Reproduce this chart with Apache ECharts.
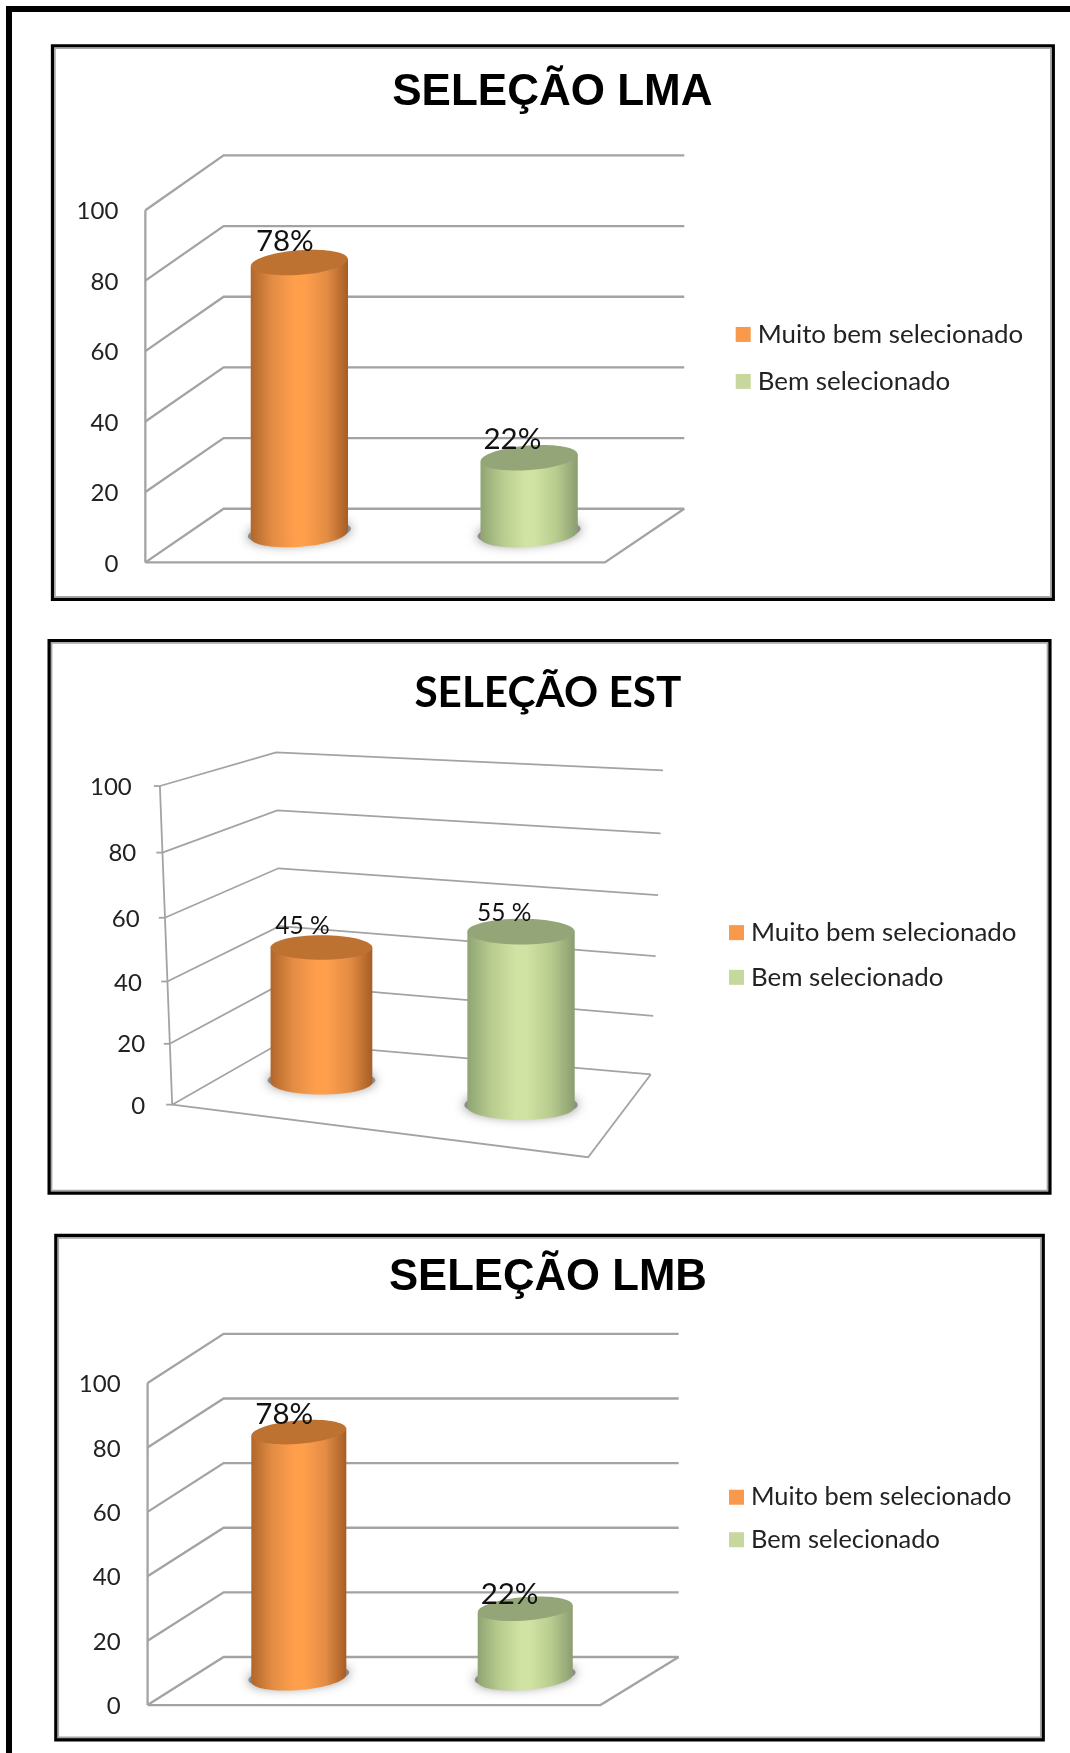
<!DOCTYPE html>
<html><head><meta charset="utf-8">
<style>html,body{margin:0;padding:0;background:#fff}#c{width:1070px;height:1753px}</style>
<script src="https://cdn.jsdelivr.net/npm/echarts@6/dist/echarts.min.js"></script>
</head><body><div id="c"></div>
<script>
// ---- data ----
const categories = ['Muito bem selecionado', 'Bem selecionado'];
const yTicks = [0, 20, 40, 60, 80, 100];
const lmaValues = [78, 22];
const lmaLabels = ['78%', '22%'];
const estValues = [45, 55];
const estLabels = ['45 %', '55 %'];
const lmbValues = [78, 22];
const lmbLabels = ['78%', '22%'];
const titles = ['SELEÇÃO LMA', 'SELEÇÃO EST', 'SELEÇÃO LMB'];

// ---- layout (measured in the 957px preview, scaled by K) ----
const K = 1070 / 957;
const ORANGE = {legend:'#F9994B', top:'#BE7232', stops:['#B0672A','#E38C44','#FF9F4C','#FF9F4C','#E38C44','#A65E24']};
const GREEN  = {legend:'#C6D89E', top:'#94A578', stops:['#8FA473','#B7CB8E','#D1E3A2','#D1E3A2','#B7CB8E','#8B9D70']};
const PALETTE = [ORANGE, GREEN];

const charts = [
 {values:lmaValues, labels:lmaLabels, box:[47,41,942,536], titleXY:[494,81], titleFont:{fontFamily:'Liberation Sans',fontSize:44},
  grid:[130,188,541,503], blBottom:[70,-48], blTop:[70,-49], brBottom:[71,-48], brTop:[71,-49], lineW:2.3,
  legend:[658,287.5,42], legendSize:25.9, ticks:false, frDy:0, bowFront:0, bowRight:0,
  bars:[{dx:35,dy:-25,k:0.99,rx:43.5,ry:11,tilt:4.5,lab:[-13,-19]},{dx:35,dy:-25,k:0.99,rx:43.5,ry:11,tilt:4.5,lab:[-15,-16]}], labSize:29.5, rOff:{}},
 {values:estValues, labels:estLabels, box:[44,573,939,1067], titleXY:[490,618], titleFont:{fontFamily:'Lato',fontSize:42.3},
  grid:[154,703,526,988], blBottom:[98,-56], blTop:[93,-30], brBottom:[56,-27], brTop:[67,-14], lineW:1.8,
  legend:[652,822.5,40], legendSize:25.9, ticks:true, axisTopDx:-11, frDy:47, bowFront:4, bowRight:3,
  bars:[{dx:40.5,dy:-20,k:0.94,rx:45.5,ry:11,tilt:0,lab:[-17,-19]},{dx:33,dy:2,k:1,rx:48,ry:11.5,tilt:0,lab:[-15,-17]}], labSize:24.5,
  rOff:{100:[12,0],80:[8,2],60:[5,4],40:[3,4],20:[0,2],0:[0,0]}},
 {values:lmbValues, labels:lmbLabels, box:[50,1105,933,1556], titleXY:[490,1141], titleFont:{fontFamily:'Liberation Sans',fontSize:43.7},
  grid:[132,1237,537,1525], blBottom:[68,-43], blTop:[68,-44], brBottom:[70,-43], brTop:[70,-44], lineW:2.3,
  legend:[652,1327.5,38], legendSize:25.4, ticks:false, frDy:0, bowFront:0, bowRight:0,
  bars:[{dx:34,dy:-24,k:0.98,rx:42.5,ry:10.5,tilt:4.5,lab:[-13,-16]},{dx:34,dy:-24,k:0.98,rx:42.5,ry:10.5,tilt:4.5,lab:[-14,-13]}], labSize:29.5, rOff:{}}
];

const AXIS_FONT = {fontFamily:'Lato', fontSize:24, color:'#222'};
const LINE = '#A3A3A3';
const lerp = (a,b,t) => a + (b-a)*t;

function wallItem(ch){
  return function(params, api){
    const v = api.value(1), cs = params.coordSys;
    const y = api.coord([0,v])[1], y0 = cs.y + cs.height, t = (y0-y)/cs.height;
    const top = cs.y, x0 = cs.x, x1 = cs.x + cs.width;
    const s = K, bow = 4*t*(1-t);
    const fl = [x0 + (ch.axisTopDx||0)*s*t, y + ch.bowFront*s*bow];
    const bl = [x0 + lerp(ch.blBottom[0],ch.blTop[0],t)*s, lerp(y0+ch.blBottom[1]*s, top+ch.blTop[1]*s, t)];
    const br = [x1 + lerp(ch.brBottom[0],ch.brTop[0],t)*s, lerp(y0+ch.brBottom[1]*s, top+ch.brTop[1]*s, t) + ch.bowRight*s*bow];
    const style = {stroke:LINE, lineWidth:ch.lineW, fill:null};
    const kids = [{type:'polyline', shape:{points:[fl,bl,br]}, style}];
    if (ch.ticks) kids.push({type:'line', shape:{x1:fl[0]-6,y1:fl[1],x2:fl[0],y2:fl[1]}, style});
    if (v === 0) kids.push({type:'polyline', shape:{points:[br,[x1,y0+ch.frDy*s],fl]}, style});
    if (v === 100) kids.push({type:'line', shape:{x1:fl[0],y1:fl[1],x2:x0,y2:y0}, style});
    return {type:'group', children:kids};
  };
}

function barItem(ch, idx){
  const b = ch.bars[idx], pal = PALETTE[idx];
  return function(params, api){
    const v = api.value(1), c = api.value(0);
    const p0 = api.coord([c,0]), p1 = api.coord([c,v]);
    const cx = p0[0] + b.dx*K, by = p0[1] + b.dy*K, ty = by - (p0[1]-p1[1])*b.k;
    const rx = b.rx*K, ry = b.ry*K, a = b.tilt*Math.PI/180, d = rx*Math.sin(a);
    const grad = {type:'linear',x:0,y:0,x2:1,y2:0,global:false,colorStops:
      pal.stops.map((col,i)=>({offset:[0,0.22,0.45,0.55,0.78,1][i],color:col}))};
    const ell = (y,rxx,ryy,style,z)=>({type:'ellipse',shape:{cx:cx,cy:y,rx:rxx,ry:ryy},rotation:a,originX:cx,originY:y,style,z2:z});
    return {type:'group',children:[
      ell(by-2, rx+3, ry-1, {fill:'#8c8c8c',shadowBlur:12,shadowColor:'#808080'},1),
      ell(by, rx, ry, {fill:grad},2),
      {type:'polygon',shape:{points:[[cx-rx,ty+d],[cx+rx,ty-d],[cx+rx,by-d],[cx-rx,by+d]]},style:{fill:grad},z2:3},
      ell(ty, rx, ry, {fill:pal.top},4),
      {type:'text',x:cx+b.lab[0]*K,y:ty+b.lab[1]*K,z2:5,style:{text:ch.labels[idx],fontFamily:'Lato',fontSize:ch.labSize,fill:'#111',align:'center',verticalAlign:'middle'}}
    ]};
  };
}

const option = {
  backgroundColor:'#fff', animation:false,
  title:[], grid:[], xAxis:[], yAxis:[], legend:[], series:[],
  graphic:[{type:'rect',shape:{x:9,y:9,width:1200,height:2000},style:{fill:null,stroke:'#000',lineWidth:6},silent:true}]
};

charts.forEach((ch,i)=>{
  const [l,t,r,bt] = ch.box.map(v=>v*K);
  option.graphic.push(
    {type:'rect',shape:{x:l,y:t,width:r-l,height:bt-t},style:{fill:null,stroke:'#000',lineWidth:3.4},silent:true},
    {type:'rect',shape:{x:l+2.4,y:t+2.4,width:r-l-4.8,height:bt-t-4.8},style:{fill:null,stroke:'#A6A6A6',lineWidth:1.6},silent:true});
  option.title.push({text:titles[i], left:ch.titleXY[0]*K, top:ch.titleXY[1]*K+2, padding:0, textAlign:'center', textVerticalAlign:'middle',
    textStyle:Object.assign({fontWeight:'bold',color:'#000'},ch.titleFont)});
  const [gl,gt,gr,gb] = ch.grid.map(v=>v*K);
  option.grid.push({left:gl,top:gt,width:gr-gl,height:gb-gt});
  option.xAxis.push({type:'category',gridIndex:i,data:categories,show:false});
  const rich = {};
  yTicks.forEach(v=>{
    const o = ch.rOff[v]||[0,0];
    const dy = o[1]*K + 1.5;
    rich['t'+v] = Object.assign({},AXIS_FONT,{padding:[2*dy,o[0]*K,0,0]});
  });
  option.yAxis.push({type:'value',gridIndex:i,min:0,max:100,interval:20,
    axisLine:{show:false},axisTick:{show:false},splitLine:{show:false},
    axisLabel:{show:true,margin:27,formatter:v=>'{t'+v+'|'+v+'}',rich}});
  option.legend.push({data:categories,left:ch.legend[0]*K,top:ch.legend[1]*K,orient:'vertical',padding:0,
    itemWidth:15,itemHeight:15,icon:'rect',itemGap:(ch.legend[2]*K)-26,
    textStyle:{fontFamily:'Lato',fontSize:ch.legendSize,color:'#222',height:26,lineHeight:26,padding:[0,0,0,2]},selectedMode:false});
  option.series.push({type:'custom',xAxisIndex:i,yAxisIndex:i,coordinateSystem:'cartesian2d',clip:false,silent:true,z:1,
    name:'grade'+i,data:yTicks.map(v=>[0,v]),encode:{x:0,y:1},renderItem:wallItem(ch)});
  categories.forEach((name,j)=>{
    option.series.push({type:'custom',name,xAxisIndex:i,yAxisIndex:i,coordinateSystem:'cartesian2d',clip:false,silent:true,z:2+j,
      itemStyle:{color:PALETTE[j].legend},data:[[j,ch.values[j]]],encode:{x:0,y:1},renderItem:barItem(ch,j)});
  });
});

const chart = echarts.init(document.getElementById('c'),null,{renderer:'canvas',width:1070,height:1753});
chart.setOption(option);
</script></body></html>
